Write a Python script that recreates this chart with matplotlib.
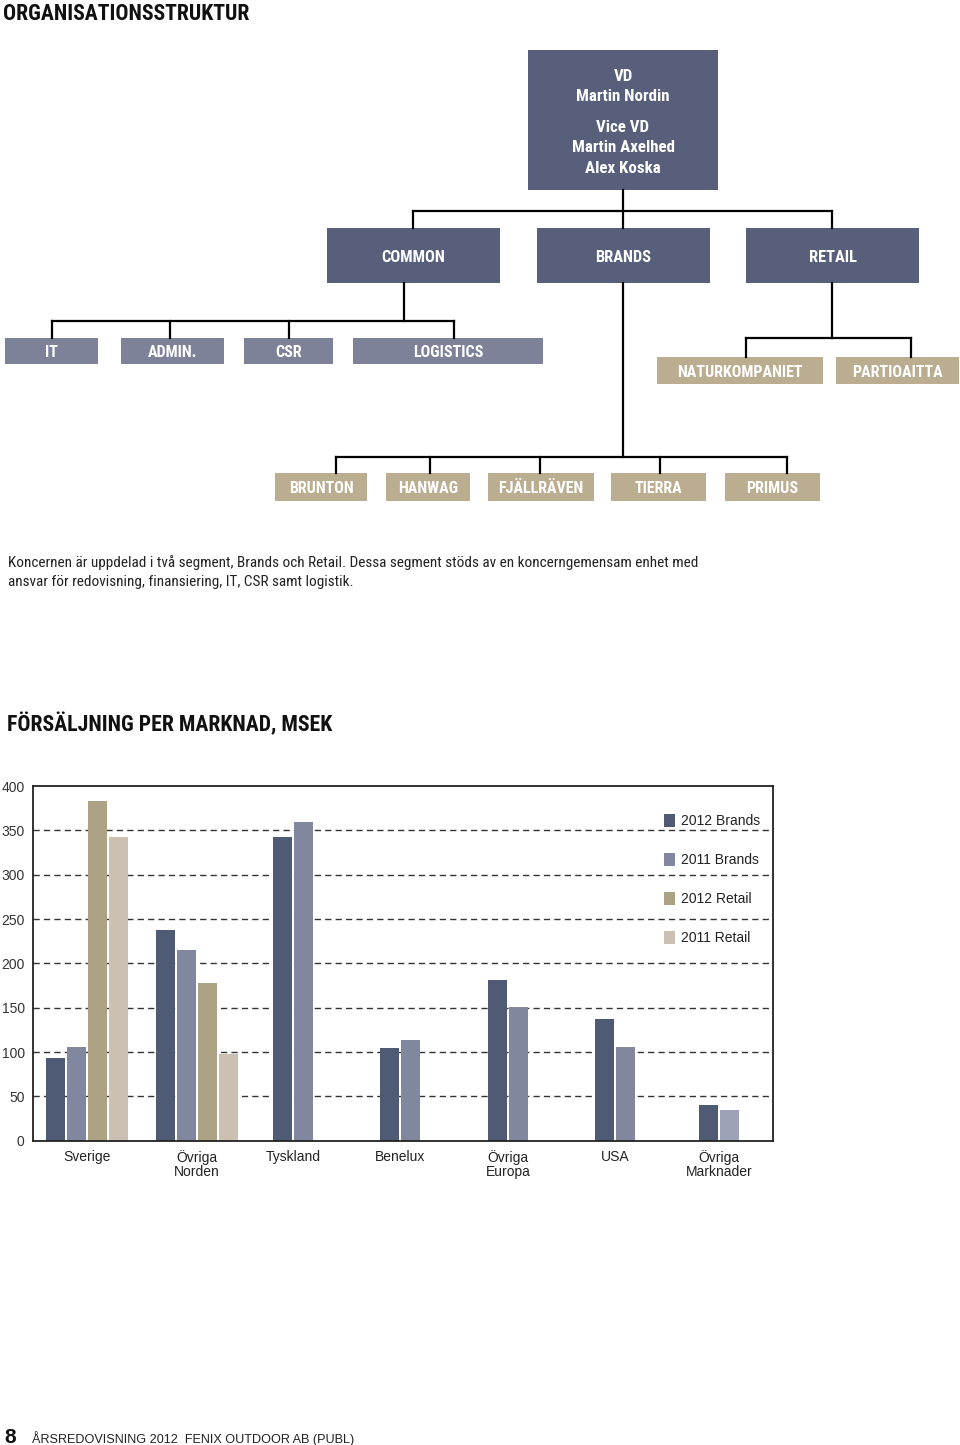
import numpy as np
import matplotlib
matplotlib.use("Agg")
import matplotlib.pyplot as plt
from matplotlib.patches import Rectangle, Patch

# ── data ────────────────────────────────────────────────────────────────────
markets = ["Sverige", "Övriga\nNorden", "Tyskland", "Benelux",
           "Övriga\nEuropa", "USA", "Övriga\nMarknader"]
brands_2012 = [93, 238, 342, 104, 181, 137, 40]
brands_2011 = [106, 215, 359, 113, 151, 106, 35]
retail_2012 = [383, 178, np.nan, np.nan, np.nan, np.nan, np.nan]
retail_2011 = [343, 98, np.nan, np.nan, np.nan, np.nan, np.nan]
series_names = ["2012 Brands", "2011 Brands", "2012 Retail", "2011 Retail"]
yticks = [0, 50, 100, 150, 200, 250, 300, 350, 400]

top_lines = ["VD", "Martin Nordin", "Vice VD", "Martin Axelhed", "Alex Koska"]
segments = ["COMMON", "BRANDS", "RETAIL"]
common_units = ["IT", "ADMIN.", "CSR", "LOGISTICS"]
retail_units = ["NATURKOMPANIET", "PARTIOAITTA"]
brand_units = ["BRUNTON", "HANWAG", "FJÄLLRÄVEN", "TIERRA", "PRIMUS"]

intro = ("Koncernen är uppdelad i två segment, Brands och Retail. Dessa segment stöds av en koncerngemensam enhet med\n"
         "ansvar för redovisning, finansiering, IT, CSR samt logistik.")

# ── styles / layout ─────────────────────────────────────────────────────────
DARK = "#585f7a"
MID = "#7e8298"
TAN = "#bbad90"
BAR_COLS = ["#4f5a75", "#80879e", "#ada384", "#cbc0b2"]
NARROW = ["Roboto Condensed", "Liberation Sans", "DejaVu Sans"]
SANS = ["Liberation Sans", "DejaVu Sans"]

W, H = 960, 1445
fig = plt.figure(figsize=(W / 100, H / 100), dpi=100)
bg = fig.add_axes([0, 0, 1, 1])
bg.set_xlim(0, W)
bg.set_ylim(H, 0)
bg.axis("off")


def box(x0, x1, y0, y1, color, label=None, base=None, size=11.8):
    bg.add_patch(Rectangle((x0, y0), x1 - x0, y1 - y0, color=color, lw=0))
    if label:
        bg.text((x0 + x1) / 2, base, label, ha="center", va="baseline",
                color="white", fontsize=size, fontweight="bold", family=NARROW)


def line(xs, ys):
    bg.plot(xs, ys, color="black", lw=1.6, solid_capstyle="projecting")


# titles
bg.text(3, 20, "ORGANISATIONSSTRUKTUR", fontsize=15.7, fontweight="bold",
        family=NARROW, va="baseline", ha="left", color="#111")
bg.text(7, 731.5, "FÖRSÄLJNING PER MARKNAD, MSEK", fontsize=15.7, fontweight="bold",
        family=NARROW, va="baseline", ha="left", color="#111")

# top box
box(528, 718, 50, 190, DARK)
for txt, y in zip(top_lines, [81, 100.7, 132, 152.3, 172.7]):
    bg.text(623, y, txt, ha="center", va="baseline", color="white",
            fontsize=12.2, fontweight="bold", family=NARROW)

# connectors
line([623, 623], [190, 228])
line([413, 832], [211, 211])
line([413, 413], [211, 228])
line([832, 832], [211, 228])

line([404, 404], [283, 321])
line([51.5, 454], [321, 321])
for x in [51.5, 170, 289, 454]:
    line([x, x], [321, 338])

line([831.5, 831.5], [283, 338])
line([746, 910.5], [338, 338])
for x in [746, 910.5]:
    line([x, x], [338, 357])

line([622.5, 622.5], [283, 457])
line([336, 787], [457, 457])
for x in [336, 430, 540, 660, 787]:
    line([x, x], [457, 473])

# boxes
for lbl, (x0, x1) in zip(segments, [(327, 500), (537, 710), (746, 919)]):
    box(x0, x1, 228, 283, DARK, lbl, base=261.7)
for lbl, (x0, x1) in zip(common_units, [(5, 98), (121, 224), (244, 333), (353, 543)]):
    box(x0, x1, 338, 364, MID, lbl, base=357.3, size=11.5)
for lbl, (x0, x1) in zip(retail_units, [(657, 823), (836, 959)]):
    box(x0, x1, 357, 384, TAN, lbl, base=377, size=11.5)
for lbl, (x0, x1) in zip(brand_units, [(275, 367), (386, 470), (488, 594), (611, 706), (725, 820)]):
    box(x0, x1, 473, 501, TAN, lbl, base=493.3, size=11.5)

for txt, y in zip(intro.split("\n"), [567.3, 585.8]):
    bg.text(8, y, txt, fontsize=11, family=NARROW, fontweight="normal",
            va="baseline", ha="left", color="#222")

# footer
bg.text(4, 1443, "8", fontsize=15, fontweight="bold", family=SANS,
        va="baseline", ha="left", color="#111")
bg.text(32, 1443.5, "ÅRSREDOVISNING 2012  FENIX OUTDOOR AB (PUBL)", fontsize=9.1,
        family=SANS, va="baseline", ha="left", color="#222")

# ── bar chart ───────────────────────────────────────────────────────────────
ax = fig.add_axes([33 / W, 1 - 1140.7 / H, 740 / W, 354.7 / H])
group_x = [54, 164, 260, 367, 475, 582, 686]
step, width = 21, 19

all_series = [brands_2012, brands_2011, retail_2012, retail_2011]
for i, cx in enumerate(group_x):
    vals = [s[i] for s in all_series]
    present = [k for k, v in enumerate(vals) if not np.isnan(v)]
    n = len(present)
    for j, k in enumerate(present):
        xpos = cx + (j - (n - 1) / 2) * step
        col = BAR_COLS[k]
        if i == len(group_x) - 1 and k == 1:
            col = "#9ea2b6"
        ax.bar(xpos, vals[k], width=width, color=col, zorder=2)

for y in yticks[1:-1]:
    ax.axhline(y, color="#333", lw=1, dashes=(4.5, 3), zorder=1)

ax.set_xlim(0, 740)
ax.set_ylim(0, 400)
ax.set_yticks(yticks)
ax.set_yticklabels([str(v) for v in yticks], fontsize=10, family=SANS, color="#333")
ax.set_xticks(group_x)
ax.set_xticklabels(markets, fontsize=10, family=SANS, color="#222", linespacing=0.95)
ax.tick_params(length=0, pad=6)
ax.tick_params(axis="x", pad=7)
for sp in ax.spines.values():
    sp.set_linewidth(1.3)
    sp.set_color("#222")

handles = [Patch(facecolor=c, edgecolor="none") for c in BAR_COLS]
leg = ax.legend(handles, series_names, loc="upper right", bbox_to_anchor=(1.0, 0.955),
                frameon=False, handlelength=0.8, handleheight=1.0, handletextpad=0.45,
                labelspacing=1.8, prop={"family": SANS, "size": 10})
for t in leg.get_texts():
    t.set_color("#222")

fig.savefig("out.png", dpi=100)
